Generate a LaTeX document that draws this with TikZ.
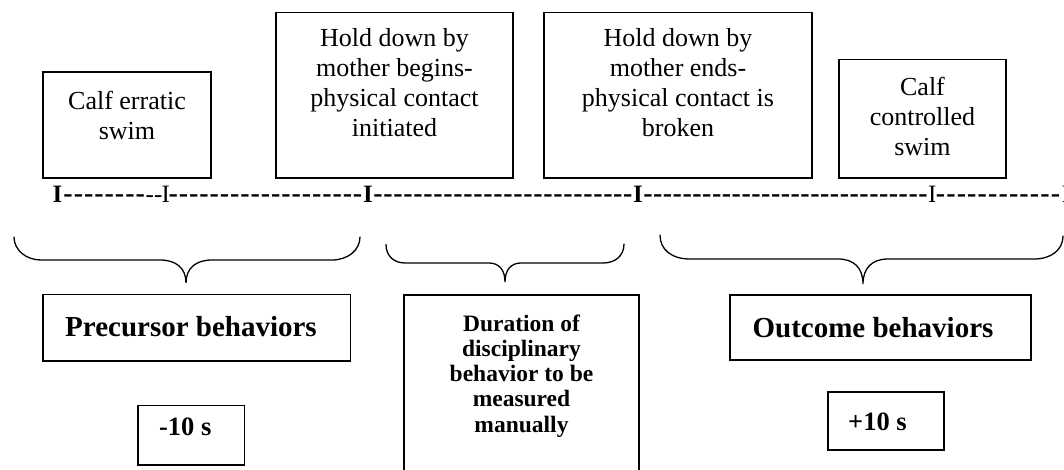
\documentclass[tikz,border=0pt]{standalone}
\usepackage{fontspec}
\setmainfont{Liberation Serif}
\newcommand\fReg{\fontsize{26}{30}\selectfont}
\newcommand\fHead{\fontsize{29}{34}\selectfont\bfseries}
\newcommand\fTime{\fontsize{26.5}{30}\selectfont\bfseries}
\newcommand\fDur{\fontsize{23.5}{25.3}\selectfont\bfseries}
% #1 width, #2 height, #3 font, #4 first baseline from top, #5 text
\newcommand\myparbox[5]{\parbox[t][#2][t]{#1}{#3\centering\rule{0pt}{#4}#5}}
\newcommand\dashfill[1]{\hbox to #1{\fontsize{28}{30}\selectfont\xleaders\hbox to 9.8pt{\hss-\hss}\hfill}}
\begin{document}
\begin{tikzpicture}[x=1pt,y=-1pt,
  box/.style={draw, line width=1.2pt, inner sep=0pt, outer sep=0pt, anchor=north west},
  brc/.style={line width=1.3pt, line cap=round},
  tick/.style={inner sep=0pt, outer sep=0pt, anchor=base west, font=\fontsize{25}{30}\selectfont\bfseries},
  ticklight/.style={tick, font=\fontsize{25}{30}\selectfont\mdseries},
]
\useasboundingbox (0,0) rectangle (1064,470);

% top boxes
\node[box] (calfA) at (43,72) {\myparbox{168pt}{106pt}{\fReg}{38pt}{Calf erratic\\swim}};
\node[box] (holdA) at (276,12.5) {\myparbox{237pt}{165.5pt}{\fReg}{34pt}{Hold down by\\mother begins-\\physical contact\\initiated}};
\node[box] (holdB) at (544,12.5) {\myparbox{268pt}{165.5pt}{\fReg}{34pt}{Hold down by\\mother ends-\\physical contact is\\broken}};
\node[box] (calfB) at (839,59.6) {\myparbox{167pt}{118.4pt}{\fReg}{36pt}{Calf\\controlled\\swim}};

% timeline
\node[tick] (i1) at (52.7,202.5) {I};
\node[tick] (s1) at (62.7,202.5) {\dashfill{83pt}\mdseries\fontsize{25}{30}\selectfont-{}-};
\node[ticklight] (i2) at (161.7,202.5) {I};
\node[tick] (s2) at (168,202.5) {\dashfill{195pt}};
\node[tick] (i3) at (363,202.5) {I};
\node[tick] (s3) at (373,202.5) {\dashfill{260pt}};
\node[tick] (i4) at (633,202.5) {I};
\node[tick] (s4) at (643,202.5) {\dashfill{285pt}};
\node[ticklight] (i5) at (928,202.5) {I};
\node[tick] (s5) at (935,202.5) {\dashfill{126pt}};
\node[ticklight] (i6) at (1061.5,202.5) {I};

% braces
\draw[brc] (14,237) .. controls (14,250) and (26,260) .. (41,260) -- (160,260)
  .. controls (176,260) and (186,268) .. (186,283)
  .. controls (186,268) and (196,260) .. (212,260) -- (332,260)
  .. controls (348,260) and (360,250) .. (360,237);
\draw[brc] (386,244.5) .. controls (386,256) and (394,263) .. (405,263) -- (489,263)
  .. controls (499,263) and (505,270) .. (505,282)
  .. controls (505,270) and (511,263) .. (521,263) -- (603,263)
  .. controls (615,263) and (624,256) .. (624,244);
\draw[brc] (660,235) .. controls (660,250) and (672,259) .. (690,259) -- (838,259)
  .. controls (854,259) and (863,268) .. (863,284)
  .. controls (863,268) and (872,259) .. (888,259) -- (1034,259)
  .. controls (1051,259) and (1063,250) .. (1063,236);

% bottom boxes
\node[box] (pre) at (43,294.5) {\myparbox{307.5pt}{66.5pt}{\fHead}{42pt}{Precursor behaviors\hspace*{11.5pt}}};
\node[box] (m10) at (138,405.7) {\myparbox{106.5pt}{59.3pt}{\fTime}{29.3pt}{-10 s\hspace*{12pt}}};
\node[box] (dur) at (404,295) {\myparbox{235pt}{190pt}{\fDur}{36pt}{Duration of\\disciplinary\\behavior to be\\measured\\manually}};
\node[box] (out) at (730,295) {\myparbox{301pt}{65pt}{\fHead}{42pt}{Outcome behaviors\hspace*{15pt}}};
\node[box] (p10) at (828,392) {\myparbox{116pt}{58pt}{\fTime}{38pt}{+10 s\hspace*{17pt}}};
\end{tikzpicture}
\end{document}
